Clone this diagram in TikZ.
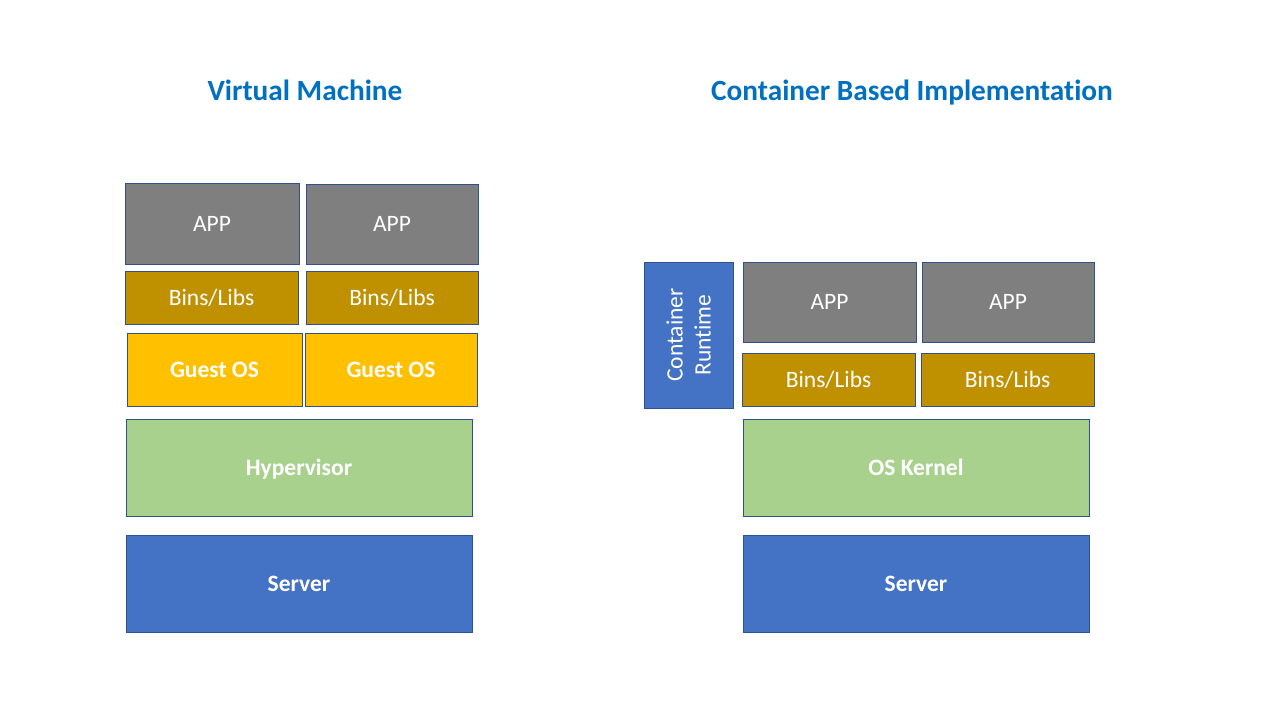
\documentclass[tikz,border=0pt]{standalone}
\usepackage{fontspec}
\setmainfont{Carlito}[Ligatures=NoCommon]
\definecolor{appgray}{HTML}{7F7F7F}
\definecolor{binsc}{HTML}{BF9000}
\definecolor{guestc}{HTML}{FFC000}
\definecolor{hypc}{HTML}{A9D18E}
\definecolor{serverc}{HTML}{4472C4}
\definecolor{edgec}{HTML}{2F528F}
\definecolor{titlec}{HTML}{0070C0}
\begin{document}
\begin{tikzpicture}[x=1pt,y=-1pt,
  box/.style={draw=edgec,line width=1pt,inner sep=0pt,outer sep=0pt,text=white,font=\fontsize{23.5}{28}\selectfont,text height=15.5pt,text depth=0pt},
  appbox/.style={box,fill=appgray},
  binsbox/.style={box,fill=binsc},
  guestbox/.style={box,fill=guestc,font=\fontsize{23.5}{28}\selectfont\bfseries},
  hypbox/.style={box,fill=hypc,font=\fontsize{23.5}{28}\selectfont\bfseries},
  serverbox/.style={box,fill=serverc,font=\fontsize{23.5}{28}\selectfont\bfseries},
  rtbox/.style={box,fill=serverc},
  title/.style={text=titlec,font=\fontsize{29.3}{34}\selectfont\bfseries,text height=20.5pt,text depth=0pt}]
\useasboundingbox (0,0) rectangle (1280,720);
\node[title] (t1) at (305,90.5) {Virtual Machine};
\node[title] (t2) at (912,90.5) {Container Based Implementation};
% left
\node[appbox,minimum width=174pt,minimum height=81pt] (app1) at (212,223.5) {APP};
\node[appbox,minimum width=172pt,minimum height=80pt] (app2) at (392,224) {APP};
\node[binsbox,minimum width=173pt,minimum height=53pt] (bins1) at (211.5,297.5) {Bins/Libs};
\node[binsbox,minimum width=172pt,minimum height=53pt] (bins2) at (392,297.5) {Bins/Libs};
\node[guestbox,minimum width=175pt,minimum height=73pt] (g1) at (214.5,369.5) {Guest OS};
\node[guestbox,minimum width=172pt,minimum height=73pt] (g2) at (391,369.5) {Guest OS};
\node[hypbox,minimum width=346pt,minimum height=97pt] (hyp) at (299,467.5) {Hypervisor};
\node[serverbox,minimum width=346pt,minimum height=97pt] (srv1) at (299,583.5) {Server};
% right
\node[rtbox,minimum width=89pt,minimum height=146pt] (rt) at (688.5,335) {};
\node[text=white,rotate=90,align=center,font=\fontsize{23.5}{28}\selectfont] (rtl) at (rt.center) {Container\\Runtime};
\node[appbox,minimum width=173pt,minimum height=80pt] (app3) at (829.5,302) {APP};
\node[appbox,minimum width=172pt,minimum height=80pt] (app4) at (1008,302) {APP};
\node[binsbox,minimum width=173pt,minimum height=53pt] (bins3) at (828.5,379.5) {Bins/Libs};
\node[binsbox,minimum width=173pt,minimum height=53pt] (bins4) at (1007.5,379.5) {Bins/Libs};
\node[hypbox,minimum width=346pt,minimum height=97pt] (osk) at (916,467.5) {OS Kernel};
\node[serverbox,minimum width=346pt,minimum height=97pt] (srv2) at (916,583.5) {Server};
\end{tikzpicture}
\end{document}
